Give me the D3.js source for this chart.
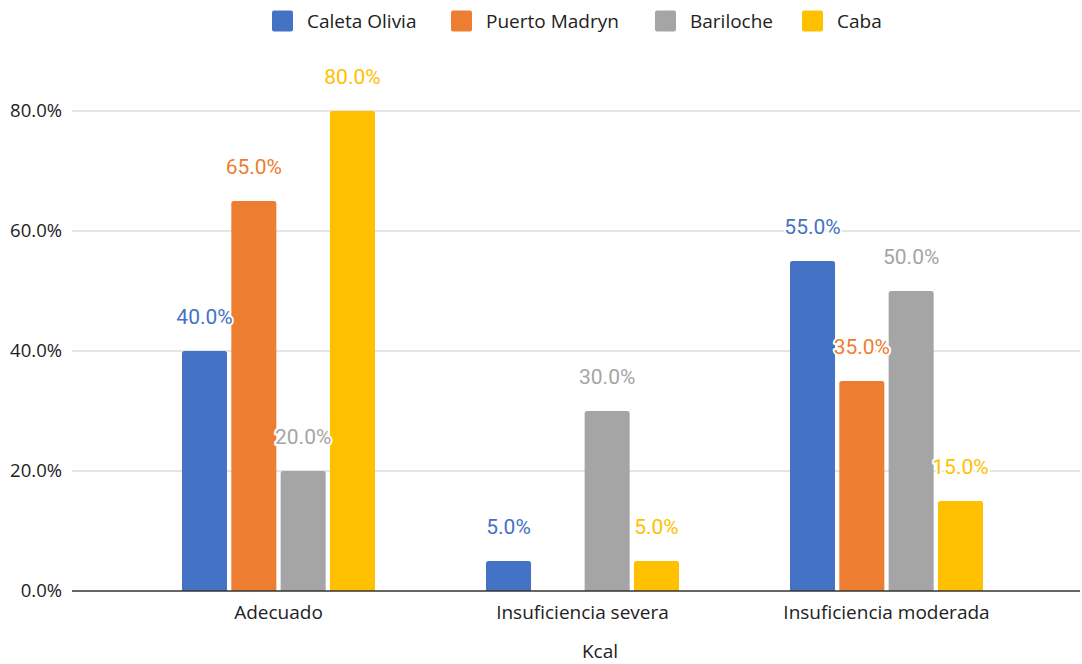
<!DOCTYPE html>
<html>
<head>
<meta charset="utf-8">
<script src="https://cdn.jsdelivr.net/npm/d3@7"></script>
<style>
  html, body { margin: 0; padding: 0; background: #fff; }
  svg { display: block; }
</style>
</head>
<body>
<script>
// Kcal adequacy by city
const categories = ["Adecuado", "Insuficiencia severa", "Insuficiencia moderada"];
const seriesNames = ["Caleta Olivia", "Puerto Madryn", "Bariloche", "Caba"];
const caletaOlivia = [40, 5, 55];
const puertoMadryn = [65, 0, 35];
const bariloche = [20, 30, 50];
const caba = [80, 5, 15];
const yTicks = [0, 20, 40, 60, 80];
const seriesColors = ["#4472C4", "#ED7D31", "#A5A5A5", "#FFC000"];
const xTitle = "Kcal";

const seriesValues = [caletaOlivia, puertoMadryn, bariloche, caba];

const W = 1082, H = 664;
const svg = d3.select("body").append("svg").attr("width", W).attr("height", H);

const plot = { left: 72, right: 1080, top: 111, bottom: 591 };
const axisFont = "'Open Sans', Lato, sans-serif";
const labelFont = "Roboto, sans-serif";

const y = d3.scaleLinear().domain([0, 80]).range([plot.bottom, plot.top]);
const x0 = d3.scaleBand().domain(categories).range([126.5, 1038.5]).padding(0);
const x1 = d3.scaleBand().domain(seriesNames).range([0, 193]).paddingInner(0.087).paddingOuter(0);

// gridlines
svg.append("g")
  .selectAll("line")
  .data(yTicks.filter(t => t > 0))
  .join("line")
  .attr("x1", plot.left).attr("x2", plot.right)
  .attr("y1", d => y(d)).attr("y2", d => y(d))
  .attr("stroke", "#cccccc").attr("stroke-width", 1.2);

// y tick labels
svg.append("g")
  .selectAll("text")
  .data(yTicks)
  .join("text")
  .attr("x", 62).attr("y", d => y(d))
  .attr("dy", "0.35em")
  .attr("text-anchor", "end")
  .attr("font-family", axisFont).attr("font-size", 18.5)
  .attr("fill", "#222")
  .text(d => d3.format(".1f")(d) + "%");

// rounded-top bar path
function topRounded(x, yTop, w, h, r) {
  if (h <= 0) return "";
  r = Math.min(r, h, w / 2);
  return `M${x},${yTop + h}V${yTop + r}Q${x},${yTop} ${x + r},${yTop}` +
         `H${x + w - r}Q${x + w},${yTop} ${x + w},${yTop + r}V${yTop + h}Z`;
}

const flat = [];
categories.forEach((c, ci) => {
  seriesNames.forEach((s, si) => {
    flat.push({ cat: c, series: s, si, value: seriesValues[si][ci] });
  });
});
const groupStart = c => x0(c) + x0.bandwidth() / 2 - 96.5;

svg.append("g")
  .selectAll("path")
  .data(flat.filter(d => d.value > 0))
  .join("path")
  .attr("d", d => {
    const bx = groupStart(d.cat) + x1(d.series);
    return topRounded(bx, y(d.value), x1.bandwidth(), y(0) - y(d.value), 2.5);
  })
  .attr("fill", d => seriesColors[d.si]);

// baseline
svg.append("line")
  .attr("x1", plot.left).attr("x2", plot.right)
  .attr("y1", y(0)).attr("y2", y(0))
  .attr("stroke", "#333").attr("stroke-width", 1.3);

// value labels with white halo
svg.append("g")
  .selectAll("text")
  .data(flat.filter(d => d.value > 0))
  .join("text")
  .attr("x", d => groupStart(d.cat) + x1(d.series) + x1.bandwidth() / 2)
  .attr("y", d => y(d.value) - 27.5)
  .attr("text-anchor", "middle")
  .attr("font-family", labelFont).attr("font-size", 21)
  .attr("fill", d => seriesColors[d.si])
  .attr("stroke", "#fff").attr("stroke-width", 4)
  .attr("stroke-linejoin", "round")
  .attr("paint-order", "stroke")
  .text(d => d3.format(".1f")(d.value) + "%");

// category labels
svg.append("g")
  .selectAll("text")
  .data(categories)
  .join("text")
  .attr("x", d => x0(d) + x0.bandwidth() / 2)
  .attr("y", 619)
  .attr("text-anchor", "middle")
  .attr("font-family", axisFont).attr("font-size", 19)
  .attr("fill", "#222")
  .text(d => d);

// axis title
svg.append("text")
  .attr("x", 600)
  .attr("y", 658)
  .attr("text-anchor", "middle")
  .attr("font-family", axisFont).attr("font-size", 19)
  .attr("fill", "#222")
  .text(xTitle);

// legend
const legendX = [272, 451, 655, 802];
const legend = svg.append("g")
  .selectAll("g")
  .data(seriesNames)
  .join("g")
  .attr("transform", (d, i) => `translate(${legendX[i]},0)`);
legend.append("rect")
  .attr("x", 0).attr("y", 10.5).attr("width", 21).attr("height", 21)
  .attr("rx", 2)
  .attr("fill", (d, i) => seriesColors[i]);
legend.append("text")
  .attr("x", 35).attr("y", 21)
  .attr("dy", "0.35em")
  .attr("font-family", axisFont).attr("font-size", 19)
  .attr("fill", "#222")
  .text(d => d);
</script>
</body>
</html>
